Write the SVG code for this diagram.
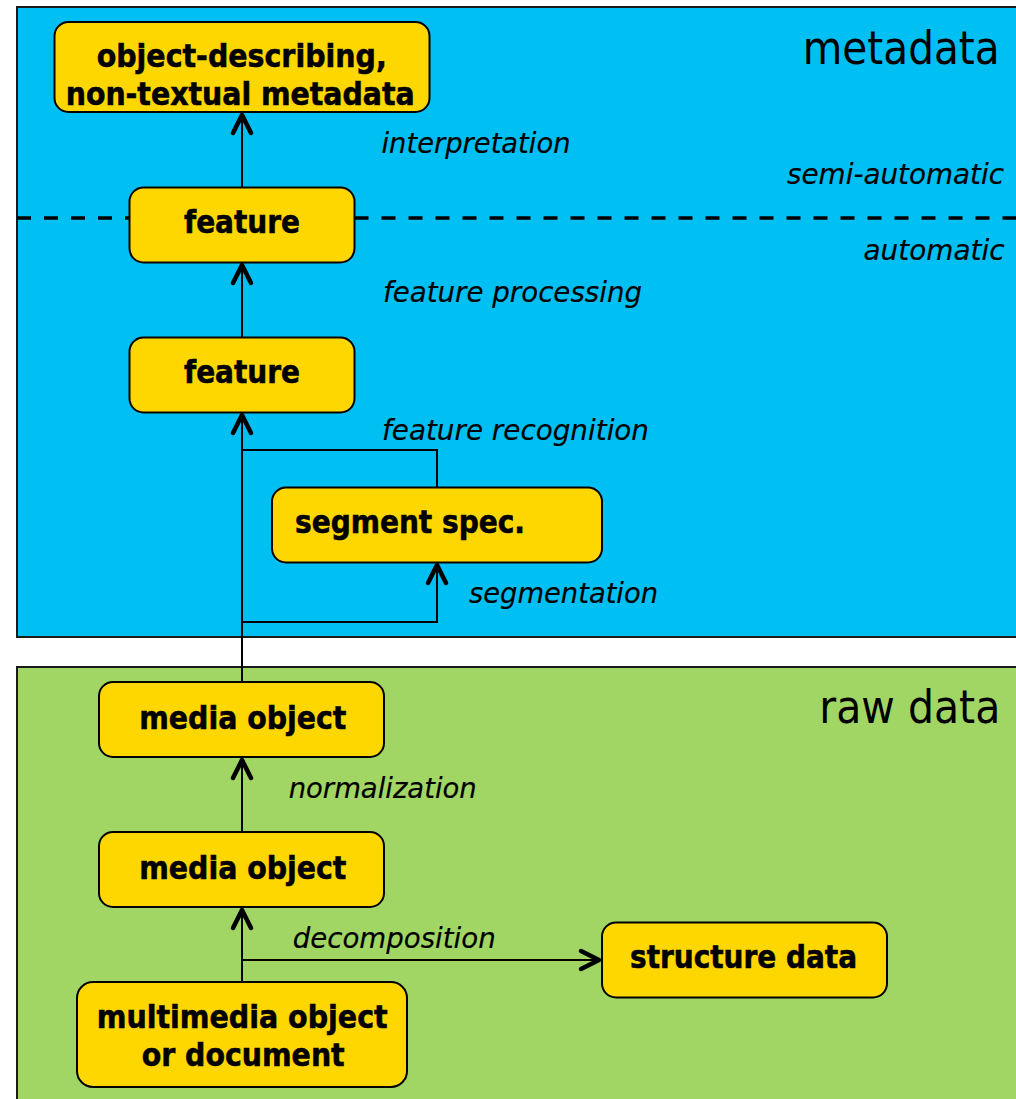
<svg xmlns="http://www.w3.org/2000/svg" width="1016" height="1099" viewBox="0 0 1016 1099">
<defs>
<style>
.border{fill:none;stroke:#1a1a1a;stroke-width:2}
.node rect{fill:#FFD700;stroke:#000;stroke-width:2}
.nt{font-family:"DejaVu Sans",Verdana,sans-serif;font-weight:bold;font-size:32px;fill:#000;stroke:#000;stroke-width:0.6}
.lbl{font-family:"DejaVu Sans",Verdana,sans-serif;font-style:italic;font-size:29px;fill:#000;stroke:#000;stroke-width:0.2}
.big{font-family:"DejaVu Sans",Verdana,sans-serif;font-size:40px;fill:#000}
.conn path{fill:none;stroke:#000;stroke-width:2}
.dash{fill:none;stroke:#000;stroke-width:3.5;stroke-dasharray:14 13}
</style>
<marker id="arr" markerUnits="userSpaceOnUse" markerWidth="40" markerHeight="40" refX="0" refY="0" orient="auto" overflow="visible">
<path d="M-18,-9 L0,0 L-18,9" fill="none" stroke="#000" stroke-width="4.5" stroke-linecap="round" stroke-linejoin="round"/>
</marker>
</defs>
<rect width="1016" height="1099" fill="#fff"/>
<g id="panel-metadata">
<rect x="17" y="7" width="999" height="630" fill="#00BFF3"/>
<path class="border" d="M1016,7 H17 V637 H1016"/>
<g transform="translate(802.7,64) scale(1,1.17)">
<text class="big" x="0" y="0" textLength="197" lengthAdjust="spacingAndGlyphs">metadata</text>
</g>
</g>
<g id="panel-raw">
<rect x="17" y="667" width="999" height="432" fill="#A1D664"/>
<path class="border" d="M1016,667 H17 V1099"/>
<g transform="translate(819.3,723.3) scale(1,1.17)">
<text class="big" x="0" y="0" textLength="181" lengthAdjust="spacingAndGlyphs">raw data</text>
</g>
</g>
<g id="divider">
<path class="dash" d="M17,218 H129.5"/>
<path class="dash" d="M354.5,218 H1016"/>
<text class="lbl" x="787" y="184" textLength="217" lengthAdjust="spacingAndGlyphs">semi-automatic</text>
<text class="lbl" x="863.5" y="259.5" textLength="141" lengthAdjust="spacingAndGlyphs">automatic</text>
</g>
<g id="connectors" class="conn">
<path d="M242,982 V910" marker-end="url(#arr)"/>
<path d="M242,960 H599" marker-end="url(#arr)"/>
<path d="M242,832 V760" marker-end="url(#arr)"/>
<path d="M242,682 V415" marker-end="url(#arr)"/>
<path d="M242,622 H437 V565" marker-end="url(#arr)"/>
<path d="M437,487.5 V450 H242"/>
<path d="M242,337.5 V265" marker-end="url(#arr)"/>
<path d="M242,187.5 V115" marker-end="url(#arr)"/>
</g>
<g id="connector-labels">
<text class="lbl" x="381.5" y="153" textLength="189" lengthAdjust="spacingAndGlyphs">interpretation</text>
<text class="lbl" x="383" y="302" textLength="259" lengthAdjust="spacingAndGlyphs">feature processing</text>
<text class="lbl" x="382" y="440" textLength="267" lengthAdjust="spacingAndGlyphs">feature recognition</text>
<text class="lbl" x="469" y="603" textLength="189" lengthAdjust="spacingAndGlyphs">segmentation</text>
<text class="lbl" x="288.7" y="798" textLength="188" lengthAdjust="spacingAndGlyphs">normalization</text>
<text class="lbl" x="292.7" y="947.7" textLength="203" lengthAdjust="spacingAndGlyphs">decomposition</text>
</g>
<g id="node-metadata" class="node">
<rect x="54.5" y="22" width="375" height="90" rx="14"/>
<text class="nt" x="96.7" y="67" textLength="290" lengthAdjust="spacingAndGlyphs">object-describing,</text>
<text class="nt" x="65.7" y="105" textLength="349" lengthAdjust="spacingAndGlyphs">non-textual metadata</text>
</g>
<g id="node-feature-top" class="node">
<rect x="129.5" y="187.5" width="225" height="75" rx="14"/>
<text class="nt" x="184" y="232.5" textLength="116" lengthAdjust="spacingAndGlyphs">feature</text>
</g>
<g id="node-feature" class="node">
<rect x="129.5" y="337.5" width="225" height="75" rx="14"/>
<text class="nt" x="184" y="382.5" textLength="116" lengthAdjust="spacingAndGlyphs">feature</text>
</g>
<g id="node-segment" class="node">
<rect x="272" y="487.5" width="330" height="75" rx="14"/>
<text class="nt" x="295" y="533" textLength="230" lengthAdjust="spacingAndGlyphs">segment spec.</text>
</g>
<g id="node-media-top" class="node">
<rect x="99" y="682" width="285" height="75" rx="14"/>
<text class="nt" x="139.3" y="728.5" textLength="207" lengthAdjust="spacingAndGlyphs">media object</text>
</g>
<g id="node-media" class="node">
<rect x="99" y="832" width="285" height="75" rx="14"/>
<text class="nt" x="139.3" y="878.5" textLength="207" lengthAdjust="spacingAndGlyphs">media object</text>
</g>
<g id="node-multimedia" class="node">
<rect x="77" y="982" width="330" height="105" rx="16"/>
<text class="nt" x="96.7" y="1028" textLength="291" lengthAdjust="spacingAndGlyphs">multimedia object</text>
<text class="nt" x="141.7" y="1066" textLength="203" lengthAdjust="spacingAndGlyphs">or document</text>
</g>
<g id="node-structure" class="node">
<rect x="602" y="922.5" width="285" height="75" rx="14"/>
<text class="nt" x="630" y="968" textLength="227" lengthAdjust="spacingAndGlyphs">structure data</text>
</g>
</svg>
